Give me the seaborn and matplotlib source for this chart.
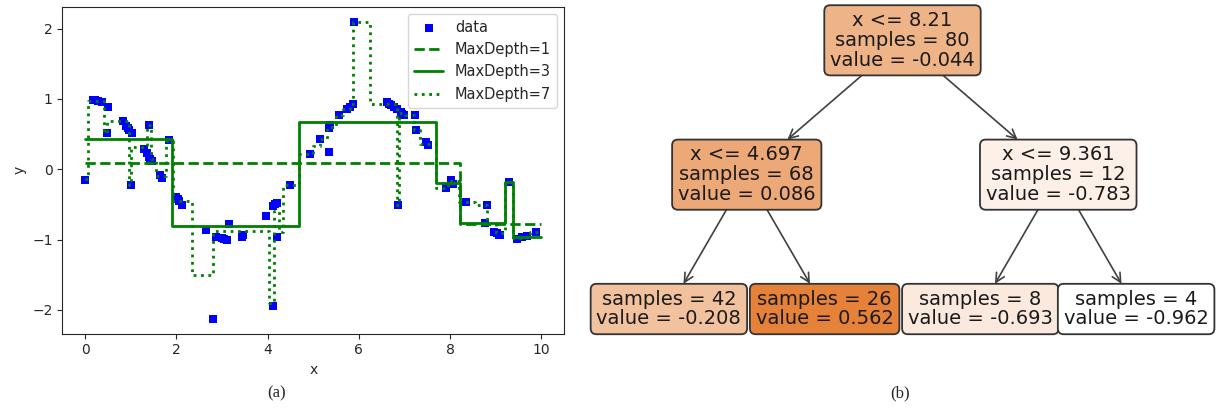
import matplotlib
matplotlib.use('Agg')
import numpy as np
import pandas as pd
import matplotlib.pyplot as plt
import seaborn as sns

sns.set_style('ticks')
plt.rcParams['font.family'] = ['DejaVu Sans']

# ---- panel (a): noisy samples ----
x_data = [0.00, 0.18, 0.22, 0.28, 0.37, 0.47, 0.51, 0.83, 0.90, 0.93, 0.97, 1.00, 1.03,
          1.30, 1.35, 1.40, 1.40, 1.43, 1.46, 1.65, 1.69, 1.85, 2.00, 2.03, 2.06, 2.13,
          2.64, 2.80, 2.88, 2.99, 3.05, 3.10, 3.15, 3.44, 3.46, 3.96, 4.12, 4.12, 4.17,
          4.20, 4.21, 4.50,
          4.92, 5.15, 5.35, 5.35, 5.37, 5.57, 5.74, 5.80, 5.88, 5.89, 6.61, 6.66, 6.70,
          6.76, 6.83, 6.85, 6.92, 6.95, 6.99, 7.22, 7.26, 7.48, 7.52, 7.90, 8.01, 8.07,
          8.35, 8.76, 8.80, 8.97, 9.02, 9.06, 9.10, 9.29, 9.47, 9.57, 9.68, 9.89]
y_data = [-0.15, 0.99, 0.98, 0.97, 0.95, 0.52, 0.88, 0.68, 0.62, 0.59, 0.56, -0.23, 0.52,
          0.28, 0.23, 0.63, 0.18, 0.15, 0.12, -0.08, -0.13, 0.41, -0.40, -0.43, -0.45, -0.51,
          -0.87, -2.13, -0.96, -0.98, -0.99, -1.00, -0.78, -0.96, -0.93, -0.66, -0.53, -1.94, -0.50,
          -0.48, -0.96, -0.23,
          0.22, 0.43, 0.24, 0.59, 0.63, 0.77, 0.86, 0.89, 0.92, 2.09, 0.95, 0.93, 0.91,
          0.88, 0.86, -0.51, 0.81, 0.79, 0.77, 0.77, 0.56, 0.38, 0.35, -0.27, -0.15, -0.21,
          -0.46, -0.77, -0.51, -0.90, -0.91, -0.93, -0.94, -0.18, -0.99, -0.97, -0.95, -0.89]

# ---- panel (a): fitted step curves (segment start, segment value) ----
depth1_edges = [0.0, 8.21, 9.99]
depth1_values = [0.086, -0.783]

depth3_edges = [0.0, 1.90, 4.697, 7.70, 8.21, 9.21, 9.37, 9.99]
depth3_values = [0.43, -0.81, 0.67, -0.20, -0.76, -0.18, -0.96]

depth7_edges = [0.0, 0.06, 0.42, 0.49, 0.97, 1.01, 1.36, 1.44, 1.55, 1.78, 1.93, 2.35,
                2.81, 4.03, 4.13, 4.25, 4.34, 4.69, 5.00, 5.15, 5.30, 5.50, 5.65, 5.80,
                5.87, 6.25, 6.84, 6.88, 7.00, 7.20, 7.35, 7.70, 7.95, 8.20, 8.55, 8.80,
                9.00, 9.20, 9.38, 9.55, 9.75, 9.99]
depth7_values = [-0.14, 0.97, 0.52, 0.68, -0.23, 0.31, 0.63, 0.15, -0.10, 0.40, -0.45,
                 -1.50, -0.88, -1.90, -0.60, -0.90, -0.22, 0.22, 0.33, 0.43, 0.60, 0.77,
                 0.86, 0.92, 2.09, 0.92, -0.51, 0.80, 0.77, 0.56, 0.36, -0.27, -0.17,
                 -0.46, -0.51, -0.78, -0.91, -0.18, -0.98, -0.96, -0.90]

# ---- panel (b): depth-2 regression tree ----
node_threshold = [8.21, 4.697, 9.361, None, None, None, None]
node_samples = [80, 68, 12, 42, 26, 8, 4]
node_value = [-0.044, 0.086, -0.783, -0.208, 0.562, -0.693, -0.962]
children_left = [1, 3, 5, -1, -1, -1, -1]
children_right = [2, 4, 6, -1, -1, -1, -1]

fig = plt.figure(figsize=(12.16, 4.11), dpi=100)

# ==================== (a) ====================
ax = fig.add_axes([0.0512, 0.188, 0.4128, 0.7956])
sns.scatterplot(x=x_data, y=y_data, marker='s', s=28, color='blue',
                edgecolor='blue', linewidth=0, label='data', ax=ax, zorder=2)

curves = [(depth1_edges, depth1_values, '--', 'MaxDepth=1'),
          (depth3_edges, depth3_values, '-', 'MaxDepth=3'),
          (depth7_edges, depth7_values, ':', 'MaxDepth=7')]
for edges, vals, ls, lab in curves:
    df = pd.DataFrame({'x': edges, 'y': list(vals) + [vals[-1]]})
    sns.lineplot(data=df, x='x', y='y', drawstyle='steps-post', estimator=None, sort=False,
                 color='green', linestyle=ls, linewidth=2, label=lab, ax=ax, zorder=3)

ax.set_xlim(-0.5, 10.5)
ax.set_ylim(-2.34, 2.31)
ax.set_xticks([0, 2, 4, 6, 8, 10])
ax.set_yticks([-2, -1, 0, 1, 2])
ax.set_xlabel('x')
ax.set_ylabel('y')
ax.legend(loc='upper right', fontsize=10.5)
ax.tick_params(labelsize=10)

# ==================== (b) ====================
axb = fig.add_axes([591 / 1216, 61 / 411, 623 / 1216, 350 / 411])
axb.set_xlim(-0.5, 3.5)
axb.set_ylim(2.305, -0.30)
axb.axis('off')

# simple layout: leaves in order, parents centred over children
pos = {}
leaf_counter = [0]


def layout(node, depth):
    if children_left[node] == -1:
        pos[node] = (leaf_counter[0], depth)
        leaf_counter[0] += 1
    else:
        layout(children_left[node], depth + 1)
        layout(children_right[node], depth + 1)
        xl = pos[children_left[node]][0]
        xr = pos[children_right[node]][0]
        pos[node] = ((xl + xr) / 2, depth)


layout(0, 0)

vmin, vmax = min(node_value), max(node_value)
base = np.array([229, 129, 57]) / 255


def node_color(v):
    a = (v - vmin) / (vmax - vmin)
    return tuple(a * base + (1 - a))


def node_text(i):
    lines = []
    if node_threshold[i] is not None:
        lines.append(f"x <= {node_threshold[i]:g}")
    lines.append(f"samples = {node_samples[i]}")
    lines.append(f"value = {node_value[i]:.3f}")
    return "\n".join(lines)


box_kw = dict(boxstyle='round,pad=0.3')
fs = 14
lsp = 1.05

# arrows first (underneath the boxes)
for p in range(len(node_value)):
    for c in (children_left[p], children_right[p]):
        if c == -1:
            continue
        axb.annotate(node_text(c), xy=pos[p], xytext=pos[c], ha='center', va='center',
                     fontsize=fs, color='none', linespacing=lsp,
                     bbox=dict(fc='none', ec='none', **box_kw),
                     arrowprops=dict(arrowstyle='<-', color='0.25', lw=1.2,
                                     mutation_scale=16, shrinkA=0, shrinkB=0),
                     zorder=1)

for i in range(len(node_value)):
    axb.text(pos[i][0], pos[i][1], node_text(i), ha='center', va='center', fontsize=fs,
             color='0.1', linespacing=lsp,
             bbox=dict(fc=node_color(node_value[i]), ec='0.2', lw=1.3, **box_kw),
             zorder=3)

# captions
fig.text(277 / 1216, 1 - 393 / 411, '(a)', ha='center', va='center', fontsize=12,
         family=['Liberation Serif', 'DejaVu Serif'])
fig.text(900 / 1216, 1 - 393 / 411, '(b)', ha='center', va='center', fontsize=12,
         family=['Liberation Serif', 'DejaVu Serif'])

fig.savefig('out.png', dpi=100)
